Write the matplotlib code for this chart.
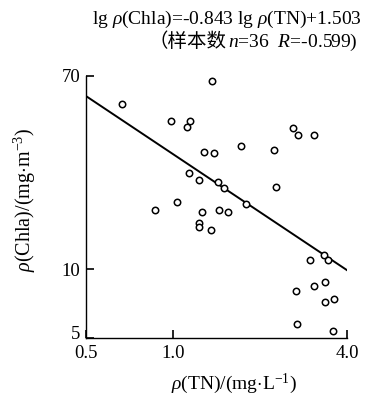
import numpy as np
import matplotlib
matplotlib.use('Agg')
import matplotlib.pyplot as plt
from matplotlib.transforms import ScaledTranslation

# total nitrogen vs chlorophyll a
tn = [1.37, 0.666, 0.985, 1.149, 1.119, 1.278, 1.383, 1.137, 1.231, 1.437,
      1.033, 2.598, 2.703, 3.077, 1.723, 2.239, 1.505, 2.270, 1.784, 1.448,
      0.867, 1.263, 1.231, 1.231, 1.349, 1.553, 3.33, 2.98, 3.44, 3.36,
      2.66, 3.07, 3.36, 3.59, 2.68, 3.57]
chla = [66.4, 52.4, 44.5, 44.5, 41.9, 32.5, 32.1, 26.2, 24.6, 24.0,
        19.7, 41.2, 38.5, 38.5, 34.5, 33.2, 22.6, 22.8, 19.2, 18.2,
        18.1, 17.7, 16.0, 15.3, 14.8, 17.8, 11.5, 11.0, 11.0, 8.84,
        8.05, 8.44, 7.21, 7.40, 5.76, 5.39]

slope = -0.843
intercept = 1.503
xticks = [0.5, 1.0, 4.0]
xticklabels = ['0.5', '1.0', '4.0']
yticks = [5, 10, 70]
yticklabels = ['5', '10', '70']

plt.rcParams['font.family'] = ['Liberation Serif', 'Noto Sans CJK SC']
plt.rcParams['mathtext.fontset'] = 'custom'
plt.rcParams['mathtext.rm'] = 'Liberation Serif'
plt.rcParams['mathtext.it'] = 'Liberation Serif:italic'

W, H = 378, 398
fig = plt.figure(figsize=(W / 100, H / 100), dpi=100)
ax = fig.add_axes([0.2267, 0.150, 0.692, 0.660])

ax.plot(tn, chla, 'o', mfc='white', mec='black', ms=4.6, mew=1.1, ls='none', zorder=3)

xfit = np.array([0.5, 4.0])
yfit = 10 ** (slope * np.log10(xfit) + intercept)
ax.plot(xfit, yfit, color='black', lw=1.4, zorder=2)

ax.set_xscale('log')
ax.set_yscale('log')
ax.set_xlim(0.5, 4.0)
ax.set_ylim(5, 70)
ax.minorticks_off()
ax.set_xticks(xticks)
ax.set_xticklabels(xticklabels)
ax.set_yticks(yticks)
ax.set_yticklabels(yticklabels)
ax.tick_params(direction='in', length=6, width=1.2, labelsize=13.5)
ax.tick_params(axis='x', pad=5)
ax.tick_params(axis='y', pad=4)
ax.spines['top'].set_visible(False)
ax.spines['right'].set_visible(False)
for s in ['left', 'bottom']:
    ax.spines[s].set_linewidth(1.0)

# lift the "5" a little so it clears "0.5"
lab5 = ax.get_yticklabels()[0]
lab5.set_transform(lab5.get_transform() + ScaledTranslation(0, 6 / 100, fig.dpi_scale_trans))

# axis titles
fig.text(234 / W, 1 - 384 / H, r'$\rho$(TN)/(mg$\cdot$L$^{-1}$)',
         ha='center', va='center', fontsize=14)
fig.text(25 / W, 1 - 200 / H, r'$\rho$(Chla)/(mg$\cdot$m$^{-3}$)',
         ha='center', va='center', rotation=90, fontsize=14.5)

# equation in the top right corner
fig.text(362 / W, 1 - 19 / H,
         r'lg $\rho$(Chla)=-0.843 lg $\rho$(TN)+1.503',
         ha='right', va='center', fontsize=14)
fig.text(226 / W, 1 - 42 / H, '（样本数', ha='right', va='center', fontsize=14)
fig.text(228 / W, 1 - 42 / H, r'$n$=36  $R$=-0.599)', ha='left', va='center',
         fontsize=14)

fig.savefig('out.png', dpi=100)
